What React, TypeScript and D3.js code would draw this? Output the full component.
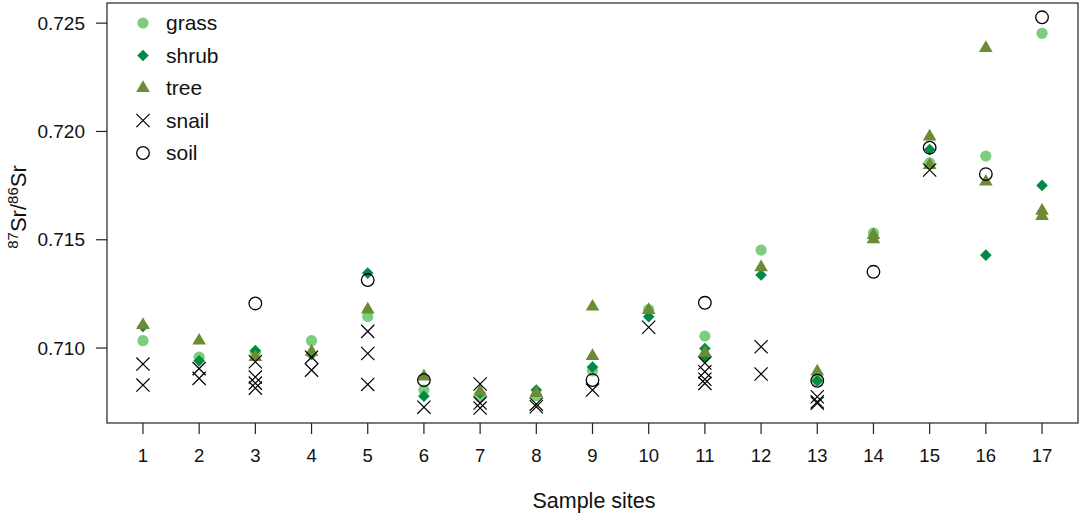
import React from "react";
import * as d3 from "d3";

const siteTicks = [1, 2, 3, 4, 5, 6, 7, 8, 9, 10, 11, 12, 13, 14, 15, 16, 17];
const yTicks = [0.71, 0.715, 0.72, 0.725];

const grassSite = [1, 2, 3, 4, 5, 6, 7, 8, 9, 10, 11, 12, 13, 14, 15, 16, 17];
const grassValue = [0.71034, 0.70958, 0.70977, 0.71034, 0.71145, 0.70806, 0.70774, 0.7078, 0.70895, 0.71178, 0.71055, 0.71452, 0.70849, 0.71531, 0.71855, 0.71886, 0.72453];

const shrubSite = [1, 2, 3, 4, 5, 6, 7, 8, 9, 10, 11, 11, 12, 13, 14, 15, 16, 17];
const shrubValue = [0.711, 0.70941, 0.70988, 0.7097, 0.71346, 0.70778, 0.70792, 0.70806, 0.70912, 0.71145, 0.70998, 0.70954, 0.71337, 0.70849, 0.7151, 0.71917, 0.71429, 0.71751];

const treeSite = [1, 2, 3, 4, 5, 6, 7, 8, 9, 9, 10, 11, 12, 13, 14, 14, 15, 15, 16, 16, 17, 17];
const treeValue = [0.71106, 0.71034, 0.70958, 0.70983, 0.71178, 0.70868, 0.70798, 0.70792, 0.71191, 0.70963, 0.71175, 0.70978, 0.71373, 0.70891, 0.71522, 0.71502, 0.71976, 0.71845, 0.72385, 0.71768, 0.71634, 0.71609];

const snailSite = [1, 1, 2, 2, 3, 3, 3, 3, 4, 4, 5, 5, 5, 6, 7, 7, 7, 8, 8, 9, 10, 11, 11, 11, 11, 12, 12, 13, 13, 13, 15];
const snailValue = [0.70926, 0.70829, 0.70905, 0.7086, 0.70937, 0.70866, 0.70838, 0.70815, 0.70958, 0.70898, 0.71077, 0.70975, 0.70832, 0.70727, 0.70834, 0.70746, 0.70723, 0.70741, 0.70729, 0.70806, 0.71096, 0.70931, 0.70891, 0.70856, 0.70837, 0.71006, 0.7088, 0.70775, 0.70752, 0.70745, 0.71822];

const soilSite = [3, 5, 6, 9, 11, 13, 14, 15, 16, 17];
const soilValue = [0.71206, 0.71314, 0.70852, 0.70852, 0.71209, 0.70849, 0.71352, 0.71925, 0.71803, 0.72527];

const legendLabels = ["grass", "shrub", "tree", "snail", "soil"];

const GRASS = "#7CCD7C";
const SHRUB = "#008B45";
const TREE = "#6B8B35";
const FONT = "'Liberation Sans', Arial, sans-serif";

const W = 1084;
const H = 514;
const L = 107, R = 1078, T = 3, B = 423;

const x = d3.scaleLinear().domain([0.36, 17.64]).range([L, R]);
const y = d3.scaleLinear().domain([0.70654, 0.72593]).range([B, T]);

type Kind = "grass" | "shrub" | "tree" | "snail" | "soil";

function Marker({ kind, cx, cy }: { kind: Kind; cx: number; cy: number }) {
  if (kind === "grass") return <circle cx={cx} cy={cy} r={5.6} fill={GRASS} />;
  if (kind === "shrub") {
    const s = 5.8;
    return <path d={`M${cx},${cy - s}L${cx + s},${cy}L${cx},${cy + s}L${cx - s},${cy}Z`} fill={SHRUB} />;
  }
  if (kind === "tree") {
    const r = 7.8, xc = 6.8;
    return <path d={`M${cx},${cy - r}L${cx + xc},${cy + r / 2}L${cx - xc},${cy + r / 2}Z`} fill={TREE} />;
  }
  if (kind === "snail") {
    const s = 6.6;
    return <path d={`M${cx - s},${cy - s}L${cx + s},${cy + s}M${cx - s},${cy + s}L${cx + s},${cy - s}`} stroke="#000" strokeWidth={1.2} fill="none" />;
  }
  return <circle cx={cx} cy={cy} r={6.3} fill="none" stroke="#000" strokeWidth={1.3} />;
}

const series: { kind: Kind; sites: number[]; values: number[] }[] = [
  { kind: "grass", sites: grassSite, values: grassValue },
  { kind: "shrub", sites: shrubSite, values: shrubValue },
  { kind: "tree", sites: treeSite, values: treeValue },
  { kind: "snail", sites: snailSite, values: snailValue },
  { kind: "soil", sites: soilSite, values: soilValue },
];

export default function App() {
  return (
    <svg width={W} height={H} style={{ position: "absolute", left: 0, top: 0, background: "#fff" }} fontFamily={FONT}>
      <rect x={0} y={0} width={W} height={H} fill="#fff" />
      {series.map((s) =>
        s.values.map((v, i) => <Marker key={s.kind + i} kind={s.kind} cx={x(s.sites[i])} cy={y(v)} />)
      )}
      <rect x={L} y={T} width={R - L} height={B - T} fill="none" stroke="#222" strokeWidth={1.2} />
      {siteTicks.map((t) => (
        <g key={"xt" + t}>
          <line x1={x(t)} x2={x(t)} y1={B} y2={B + 11} stroke="#222" strokeWidth={1.2} />
          <text x={x(t)} y={456} dy="0.35em" textAnchor="middle" fontSize={18.5} fill="#111">{t}</text>
        </g>
      ))}
      {yTicks.map((t) => (
        <g key={"yt" + t}>
          <line x1={L - 11} x2={L} y1={y(t)} y2={y(t)} stroke="#222" strokeWidth={1.2} />
          <text x={85} y={y(t)} dy="0.35em" textAnchor="end" fontSize={19} fill="#111">{d3.format(".3f")(t)}</text>
        </g>
      ))}
      <text x={594} y={500} dy="0.35em" textAnchor="middle" fontSize={21.5} fill="#111">Sample sites</text>
      <text transform={`translate(26,207) rotate(-90)`} textAnchor="middle" fontSize={22} fill="#111">
        <tspan fontSize={15} dy={-8}>87</tspan>
        <tspan dy={8}>Sr/</tspan>
        <tspan fontSize={15} dy={-8}>86</tspan>
        <tspan dy={8}>Sr</tspan>
      </text>
      {legendLabels.map((lab, i) => {
        const ly = 23 + i * 32.5;
        return (
          <g key={"lg" + lab}>
            <Marker kind={lab as Kind} cx={143} cy={ly} />
            <text x={166} y={ly} dy="0.35em" fontSize={21} fill="#111">{lab}</text>
          </g>
        );
      })}
    </svg>
  );
}
